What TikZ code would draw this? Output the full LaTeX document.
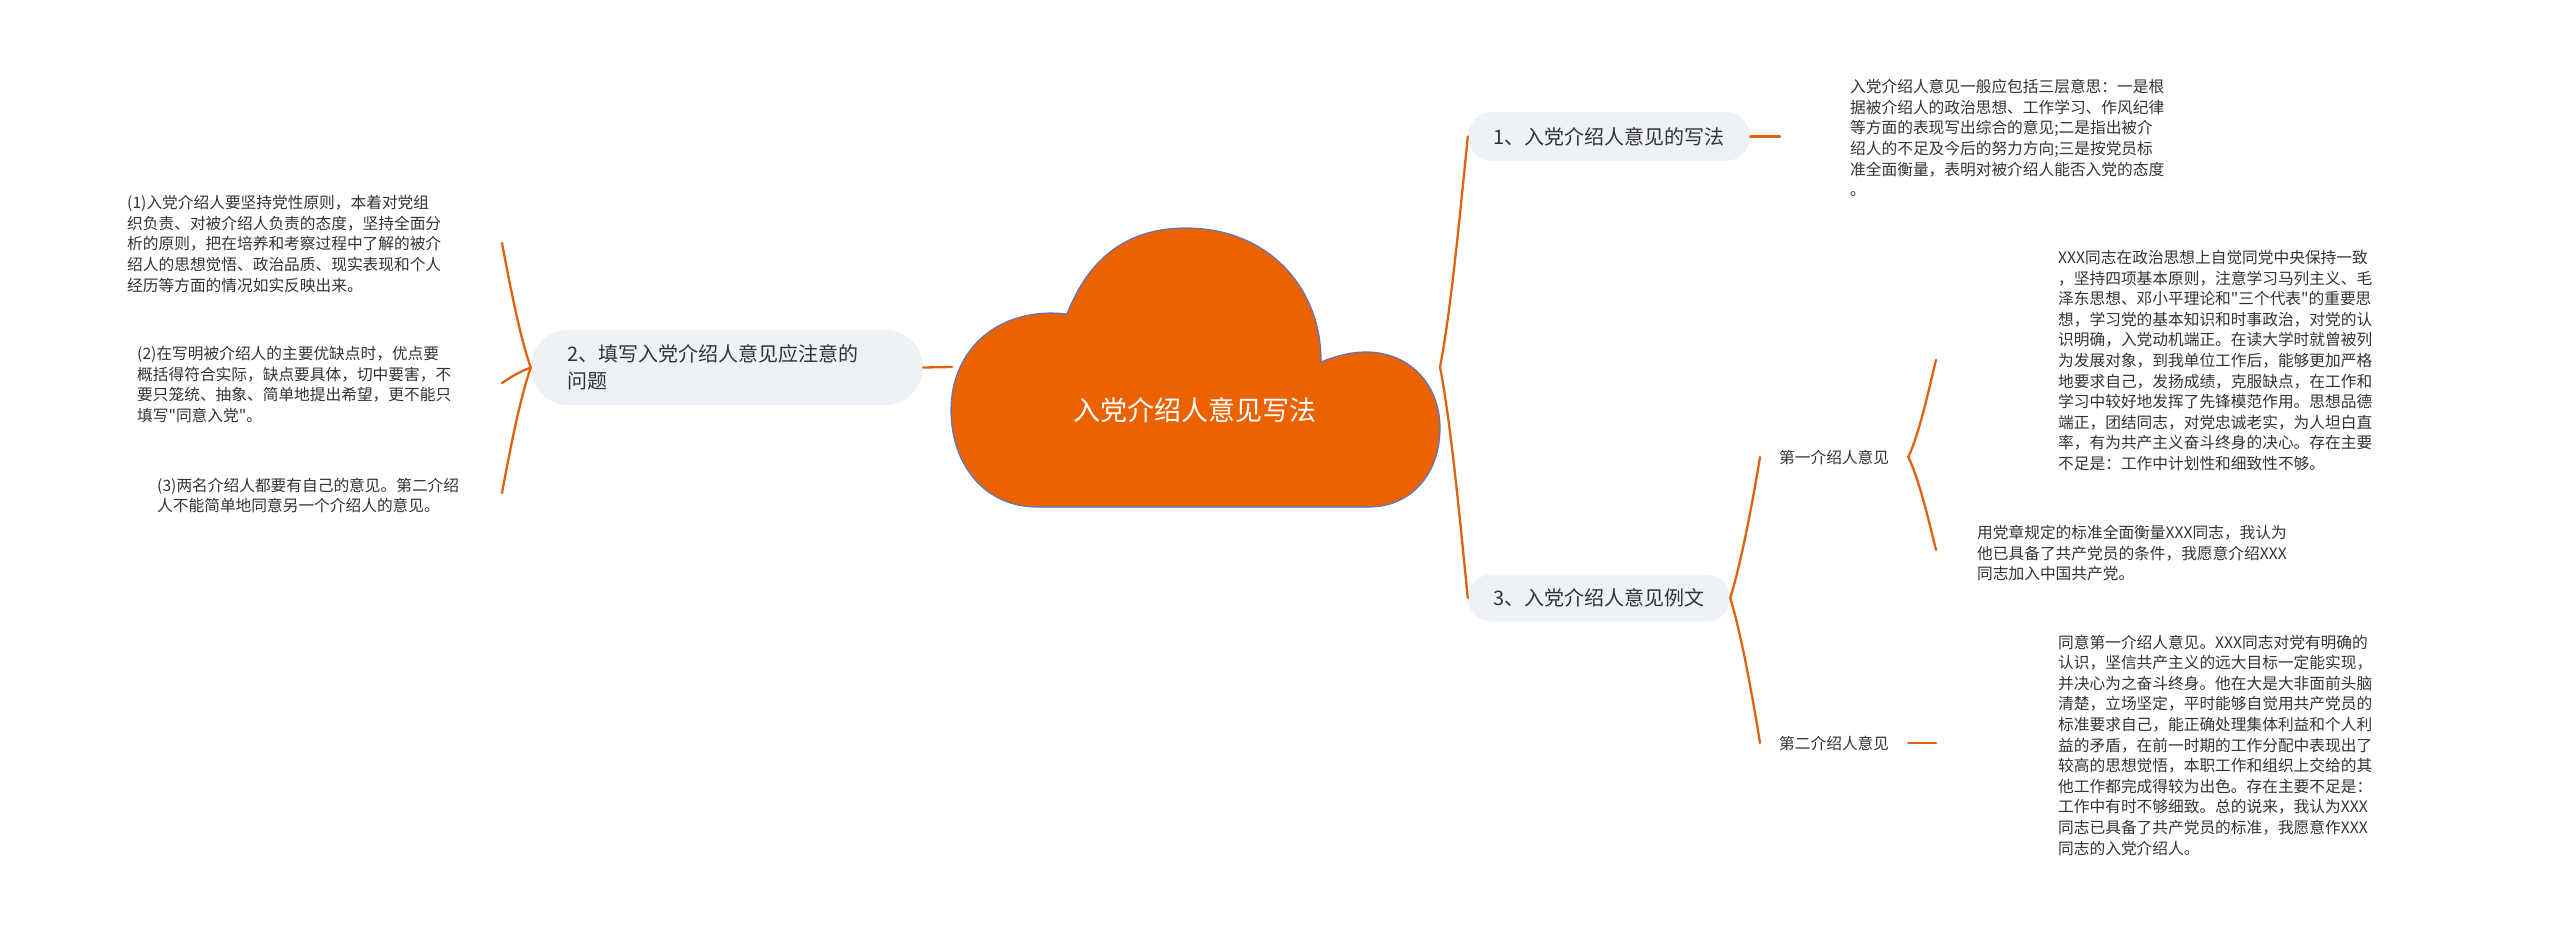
\documentclass[tikz,border=0pt]{standalone}
\usepackage{fontspec}
\newfontfamily\cjkfont{Noto Sans CJK SC}
\definecolor{mmline}{HTML}{E0620E}
\definecolor{cloudfill}{HTML}{EB6200}
\definecolor{cloudedge}{HTML}{5B78BE}
\definecolor{pillbg}{HTML}{EEF1F5}
\definecolor{txt}{HTML}{333333}
\begin{document}
\begin{tikzpicture}[x=1pt,y=-1pt,
  pill/.style={fill=pillbg, inner sep=0pt, text=txt, font=\cjkfont\fontsize{20}{27}\selectfont},
  leaf/.style={anchor=west, inner sep=0pt, align=left, text=txt, font=\cjkfont\fontsize{15.7}{20.6}\selectfont},
  conn/.style={draw=mmline, line width=2.3pt, line cap=round}]
\fill[white] (0,0) rectangle (2560,931);
\useasboundingbox (0,0) rectangle (2560,931);

% central cloud
\fill[cloudfill, draw=cloudedge, line width=1.2pt]
  (1037,507) .. controls (985,507) and (951,465) .. (951,410)
  .. controls (951,350) and (998,306) .. (1067,314)
  .. controls (1090,255) and (1130,228) .. (1186,228)
  .. controls (1270,228) and (1322,290) .. (1321,362)
  .. controls (1338,355) and (1352,352) .. (1366,352)
  .. controls (1410,352) and (1440,385) .. (1440,428)
  .. controls (1440,475) and (1410,507) .. (1369,507)
  -- cycle;
\node[text=white, inner sep=0pt, font=\cjkfont\fontsize{27}{30}\selectfont] (root) at (1195,410) {入党介绍人意见写法};
\coordinate (rootR) at (1440,367);
\coordinate (rootL) at (952,367);

% main branches
\node[pill, minimum width=282pt, minimum height=49pt, rounded corners=24.5pt] (n1) at (1609,136.5) {1、入党介绍人意见的写法};
\node[pill, minimum width=262pt, minimum height=47pt, rounded corners=23.5pt] (n3) at (1599,598) {3、入党介绍人意见例文};
\node[pill, minimum width=392pt, minimum height=75pt, rounded corners=37.5pt, text width=320pt, align=left] (n2) at (727,367.5) {2、填写入党介绍人意见应注意的\\问题};

% sub labels
\node[leaf] (lab1) at (1779,457) {第一介绍人意见};
\node[leaf] (lab2) at (1779,743) {第二介绍人意见};

% leaves right
\node[leaf] (t1) at (1850,138) {入党介绍人意见一般应包括三层意思：一是根\\%
据被介绍人的政治思想、工作学习、作风纪律\\%
等方面的表现写出综合的意见;二是指出被介\\%
绍人的不足及今后的努力方向;三是按党员标\\%
准全面衡量，表明对被介绍人能否入党的态度\\%
。};
\node[leaf] (t2) at (2058,360.5) {XXX同志在政治思想上自觉同党中央保持一致\\%
，坚持四项基本原则，注意学习马列主义、毛\\%
泽东思想、邓小平理论和"三个代表"的重要思\\%
想，学习党的基本知识和时事政治，对党的认\\%
识明确，入党动机端正。在读大学时就曾被列\\%
为发展对象，到我单位工作后，能够更加严格\\%
地要求自己，发扬成绩，克服缺点，在工作和\\%
学习中较好地发挥了先锋模范作用。思想品德\\%
端正，团结同志，对党忠诚老实，为人坦白直\\%
率，有为共产主义奋斗终身的决心。存在主要\\%
不足是：工作中计划性和细致性不够。};
\node[leaf] (t3) at (1977,553) {用党章规定的标准全面衡量XXX同志，我认为\\%
他已具备了共产党员的条件，我愿意介绍XXX\\%
同志加入中国共产党。};
\node[leaf] (t4) at (2058,745) {同意第一介绍人意见。XXX同志对党有明确的\\%
认识，坚信共产主义的远大目标一定能实现，\\%
并决心为之奋斗终身。他在大是大非面前头脑\\%
清楚，立场坚定，平时能够自觉用共产党员的\\%
标准要求自己，能正确处理集体利益和个人利\\%
益的矛盾，在前一时期的工作分配中表现出了\\%
较高的思想觉悟，本职工作和组织上交给的其\\%
他工作都完成得较为出色。存在主要不足是：\\%
工作中有时不够细致。总的说来，我认为XXX\\%
同志已具备了共产党员的标准，我愿意作XXX\\%
同志的入党介绍人。};

% leaves left
\node[leaf] (l1) at (127,244) {(1)入党介绍人要坚持党性原则，本着对党组\\%
织负责、对被介绍人负责的态度，坚持全面分\\%
析的原则，把在培养和考察过程中了解的被介\\%
绍人的思想觉悟、政治品质、现实表现和个人\\%
经历等方面的情况如实反映出来。};
\node[leaf] (l2) at (137,384.5) {(2)在写明被介绍人的主要优缺点时，优点要\\%
概括得符合实际，缺点要具体，切中要害，不\\%
要只笼统、抽象、简单地提出希望，更不能只\\%
填写"同意入党"。};
\node[leaf] (l3) at (157,495.5) {(3)两名介绍人都要有自己的意见。第二介绍\\%
人不能简单地同意另一个介绍人的意见。};

% connector end points
\coordinate (e1) at (1780,136.5);
\coordinate (el1) at (502,243);
\coordinate (el2) at (502,383);
\coordinate (el3) at (502,493);
\coordinate (et2) at (1936,360);
\coordinate (et3) at (1936,550);
\coordinate (et4) at (1936,743);

% connectors
\draw[conn] (n2.east) -- (rootL);
\draw[conn] (rootR) .. controls +(11.2,-57.5) and +(-7,69) .. (n1.west);
\draw[conn] (rootR) .. controls +(11.2,57.5) and +(-7,-69) .. (n3.west);
\draw[conn] (n1.east) -- (e1);
\draw[conn] (n2.west) .. controls +(-11.2,-31) and +(7,37.2) .. (el1);
\draw[conn] (n2.west) .. controls +(-11.2,4) and +(7,-4.8) .. (el2);
\draw[conn] (n2.west) .. controls +(-11.2,31.5) and +(7,-37.8) .. (el3);
\draw[conn] (n3.east) .. controls +(11.2,-35.5) and +(-7,42.6) .. ([xshift=-19pt]lab1.west);
\draw[conn] (n3.east) .. controls +(11.2,36.2) and +(-7,-43.5) .. ([xshift=-19pt]lab2.west);
\draw[conn] ([xshift=19pt]lab1.east) .. controls +(11.2,-24) and +(-7,28.8) .. (et2);
\draw[conn] ([xshift=19pt]lab1.east) .. controls +(11.2,23.5) and +(-7,-28.2) .. (et3);
\draw[conn] ([xshift=19pt]lab2.east) -- (et4);
\end{tikzpicture}
\end{document}
